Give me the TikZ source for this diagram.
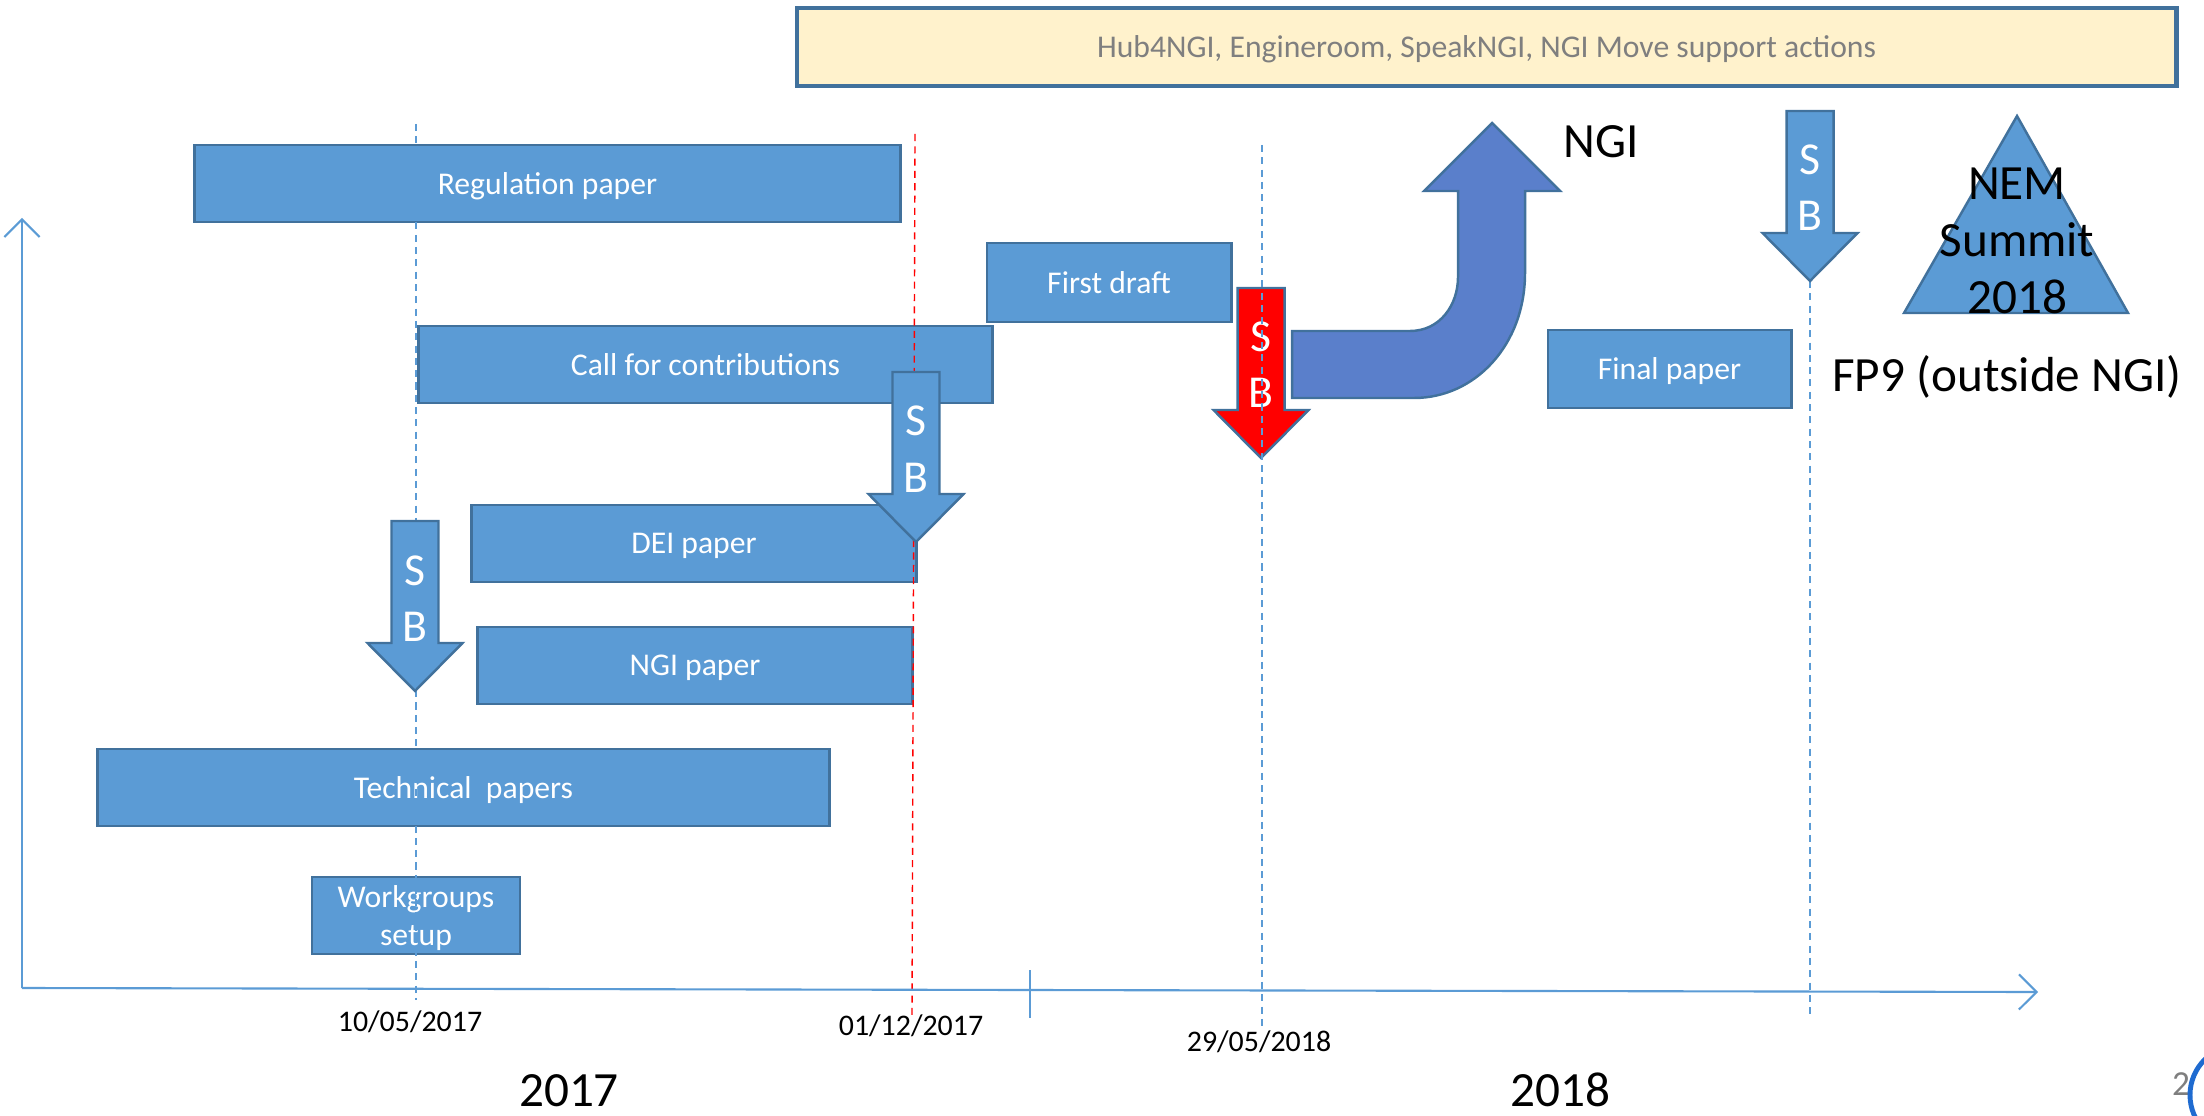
\documentclass[tikz,border=0pt]{standalone}
\usepackage{fontspec}
\setmainfont{Carlito}
\usepackage{tikz}
\usetikzlibrary{arrows.meta,positioning,calc}
\definecolor{boxblue}{HTML}{5B9BD5}
\definecolor{edgeblue}{HTML}{41719C}
\definecolor{bentblue}{HTML}{5A7FCB}
\definecolor{bannerfill}{HTML}{FFF2CC}
\definecolor{bannertext}{HTML}{7F7F7F}
\definecolor{ringblue}{HTML}{1F6BD0}

% down arrow with S/B inside: name, x, top y, fill
\newcommand{\SBarrow}[4]{%
\draw[sbarrow, fill=#4] (#2-23.5,#3) -- (#2+23.5,#3) -- (#2+23.5,#3+122) -- (#2+47.5,#3+122)
  -- (#2,#3+170) -- (#2-47.5,#3+122) -- (#2-23.5,#3+122) -- cycle;
\node[sbtext] (#1s) at (#2,#3+64) {S};
\node[sbtext] (#1b) at (#2,#3+120) {B};
}

\begin{document}
\begin{tikzpicture}[x=0.01cm, y=-0.01cm,
  paper/.style={draw=edgeblue, line width=0.8pt, fill=boxblue, text=white, inner sep=0pt,
    text depth=0pt, minimum height=0.77cm, align=center, font=\fontsize{9}{11}\selectfont},
  sbarrow/.style={draw=edgeblue, line width=0.7pt},
  sbtext/.style={text=white, inner sep=0pt, anchor=base, font=\fontsize{13}{15}\selectfont},
  guide/.style={boxblue, line width=0.4pt, dash pattern=on 2pt off 1.5pt},
  redguide/.style={red, line width=0.4pt, dash pattern=on 2pt off 1.5pt},
  axis/.style={boxblue, line width=0.6pt},
  datelabel/.style={font=\fontsize{8.5}{10}\selectfont, inner sep=0pt},
  yearlabel/.style={font=\fontsize{14}{16}\selectfont, inner sep=0pt, anchor=base},
  bigtext/.style={font=\fontsize{14}{16.2}\selectfont, inner sep=0pt, align=center}]
\path[use as bounding box] (0,0) rectangle (2204,1116);

% support actions banner
\node[draw=edgeblue, line width=1.2pt, fill=bannerfill, text=bannertext, inner sep=0pt,
  text depth=0pt, minimum width=13.79cm, minimum height=0.78cm, font=\fontsize{9}{11}\selectfont]
  (banner) at (1486.5,47) {Hub4NGI, Engineroom, SpeakNGI, NGI Move support actions};

% papers
\node[paper, minimum width=7.05cm] (reg) at (547.5,183.5) {Regulation paper};
\node[paper, minimum width=2.44cm, minimum height=0.79cm] (draft) at (1109,282.5) {First draft};
\node[paper, minimum width=5.73cm] (call) at (705.5,364.5) {Call for contributions};
\node[paper, minimum width=4.44cm] (dei) at (694,543.5) {DEI paper};
\node[paper, minimum width=4.34cm] (ngip) at (695,665.5) {NGI paper};
\node[paper, minimum width=7.31cm] (tech) at (463.5,787.5) {Technical~ papers};
\node[paper, minimum width=2.08cm] (wg) at (416,915.5) {Workgroups\\setup};
\node[paper, minimum width=2.43cm, minimum height=0.78cm] (final) at (1669.5,369) {Final paper};

% milestones
\coordinate (m1top) at (416,124);  \coordinate (m1bot) at (416,1000);
\coordinate (m2top) at (915,134);  \coordinate (m2bot) at (912,1015);
\coordinate (m3top) at (1262,145); \coordinate (m3bot) at (1262,1026);
\coordinate (m4top) at (1810,281); \coordinate (m4bot) at (1810,1018);
\draw[guide] (m1top) -- (m1bot);
\draw[redguide] (m2top) -- (m2bot);
\draw[guide] (m4top) -- (m4bot);

% axes
\coordinate (origin) at (22,988);
\coordinate (xend) at (2038,992);
\coordinate (yend) at (22,218);
\coordinate (ticktop) at (1030,970);
\coordinate (tickbot) at (1030,1018);
\draw[axis, -{Straight Barb[length=5pt,width=10pt]}] (origin) -- (xend);
\draw[axis, -{Straight Barb[length=5pt,width=10pt]}] (origin) -- (yend);
\draw[axis] (ticktop) -- (tickbot);

% steering board
\SBarrow{sbone}{415}{521}{boxblue}
\SBarrow{sbtwo}{916}{372}{boxblue}
\SBarrow{sbfour}{1810}{111}{boxblue}
\SBarrow{sbthree}{1261}{288}{red}
\draw[guide] (m3top) -- (m3bot);

% turn to NGI
\draw[sbarrow, fill=bentblue] (1292,331) -- (1410,331)
  .. controls (1440,331) and (1458,305) .. (1458,277) -- (1458,191) -- (1424,191)
  -- (1492,123) -- (1560,191) -- (1525,191) -- (1525,273)
  .. controls (1525,345) and (1475,398) .. (1414,398) -- (1292,398) -- cycle;
\node[bigtext] (ngi) at (1601,142) {NGI};

% summit
\draw[sbarrow, fill=boxblue] (1904,313) -- (2017,116) -- (2128,313) -- cycle;
\node[bigtext] (nem) at (2017,241) {NEM\\Summit\\2018};
\node[bigtext] (fp9) at (2007,377) {FP9 (outside NGI)};

% dates
\node[datelabel] (date1) at (410,1022) {10/05/2017};
\node[datelabel] (date2) at (911,1026) {01/12/2017};
\node[datelabel] (date3) at (1259,1042) {29/05/2018};
\node[yearlabel] (y17) at (569,1106) {2017};
\node[yearlabel] (y18) at (1560,1106) {2018};

% page corner
\node[font=\fontsize{10}{12}\selectfont, text=bannertext, inner sep=0pt] (pageno) at (2181,1084) {2};
\begin{scope}
\clip (0,0) rectangle (2204,1116);
\draw[ringblue, line width=1.4pt] (2240,1095) circle (0.5cm);
\end{scope}
\end{tikzpicture}
\end{document}
